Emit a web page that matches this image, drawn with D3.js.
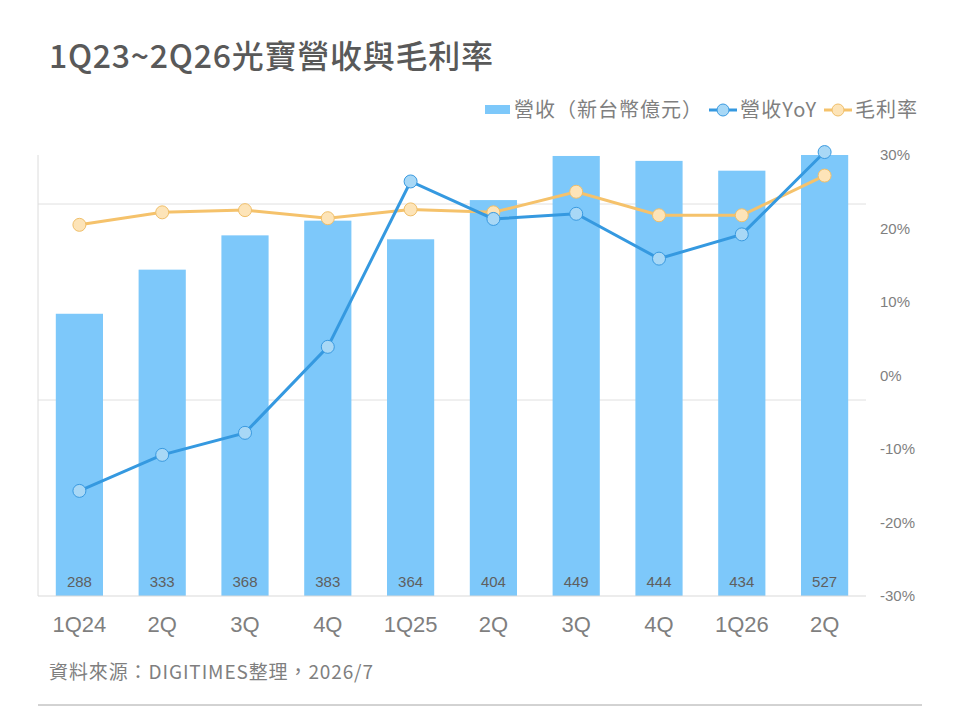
<!DOCTYPE html>
<html>
<head>
<meta charset="utf-8">
<script src="https://cdn.jsdelivr.net/npm/d3@7"></script>
<style>
  body { margin: 0; background: #fff; }
  text { font-family: "Liberation Sans", Arial, sans-serif; }
  .cjk { font-family: "Noto Sans CJK TC", "Noto Sans", sans-serif; }
</style>
</head>
<body>
<div id="chart-container"></div>
<script>
// Chart data
const quarters = ["1Q24", "2Q", "3Q", "4Q", "1Q25", "2Q", "3Q", "4Q", "1Q26", "2Q"];
const revenue = [288, 333, 368, 383, 364, 404, 449, 444, 434, 527];      // 新台幣億元
const revenueYoY = [-15.7, -10.8, -7.8, 3.9, 26.4, 21.3, 22.0, 15.9, 19.2, 30.4];  // %
const grossMargin = [20.5, 22.2, 22.5, 21.4, 22.6, 22.2, 25.0, 21.8, 21.8, 27.2];  // %
const pctTicks = [-30, -20, -10, 0, 10, 20, 30];
const revGridTicks = [200, 400];

const W = 960, H = 720;
const plot = { left: 38, right: 866, top: 155, bottom: 596 };

const svg = d3.select("#chart-container")
    .append("svg")
    .attr("width", W)
    .attr("height", H);

// Scales
const x = d3.scaleBand()
    .domain(d3.range(quarters.length))
    .range([plot.left, plot.right])
    .paddingInner(0.43)
    .paddingOuter(0.215);

const yRev = d3.scaleLinear()
    .domain([0, 450])
    .range([plot.bottom, plot.top]);

const yPct = d3.scaleLinear()
    .domain([-30, 30])
    .range([plot.bottom, plot.top]);

const cx = i => x(i) + x.bandwidth() / 2;

// Title
svg.append("text")
    .attr("class", "cjk")
    .attr("x", 49)
    .attr("y", 68)
    .attr("font-size", 32)
    .attr("font-weight", 500)
    .attr("fill", "#595959")
    .attr("textLength", 444)
    .attr("lengthAdjust", "spacing")
    .text("1Q23~2Q26光寶營收與毛利率");

// Gridlines and frame
svg.append("g")
    .selectAll("line")
    .data(revGridTicks)
    .enter().append("line")
    .attr("x1", plot.left)
    .attr("x2", plot.right)
    .attr("y1", d => yRev(d))
    .attr("y2", d => yRev(d))
    .attr("stroke", "#e0e0e0")
    .attr("stroke-width", 1);

svg.append("line")
    .attr("x1", plot.left).attr("x2", plot.left)
    .attr("y1", plot.top).attr("y2", plot.bottom)
    .attr("stroke", "#dcdcdc");

// Clip so the tallest bar stops at the plot top
svg.append("clipPath")
    .attr("id", "plot-clip")
    .append("rect")
    .attr("x", plot.left)
    .attr("y", plot.top)
    .attr("width", plot.right - plot.left)
    .attr("height", plot.bottom - plot.top);

// Bars
svg.append("g")
    .attr("clip-path", "url(#plot-clip)")
    .selectAll("rect")
    .data(revenue)
    .enter().append("rect")
    .attr("x", (d, i) => x(i))
    .attr("y", d => yRev(d))
    .attr("width", x.bandwidth())
    .attr("height", d => yRev(0) - yRev(d))
    .attr("fill", "#7dc8fa");

// Bar value labels
svg.append("g")
    .selectAll("text")
    .data(revenue)
    .enter().append("text")
    .attr("x", (d, i) => cx(i))
    .attr("y", plot.bottom - 9)
    .attr("text-anchor", "middle")
    .attr("font-size", 15)
    .attr("fill", "#5f5f5f")
    .text(d => d);

// Bottom axis line
svg.append("line")
    .attr("x1", plot.left).attr("x2", plot.right)
    .attr("y1", plot.bottom).attr("y2", plot.bottom)
    .attr("stroke", "#d9d9d9");

// X axis labels
const xAxis = svg.append("g")
    .attr("transform", "translate(0," + plot.bottom + ")")
    .call(d3.axisBottom(x).tickSize(0).tickPadding(20).tickFormat(i => quarters[i]));
xAxis.select(".domain").remove();
xAxis.selectAll("text")
    .attr("font-family", "Liberation Sans, Arial, sans-serif")
    .attr("font-size", 22)
    .attr("fill", "#7f7f7f");

// Right percent axis
const yAxis = svg.append("g")
    .attr("transform", "translate(" + (plot.right + 14) + ",0)")
    .call(d3.axisRight(yPct).tickValues(pctTicks).tickSize(0).tickPadding(0).tickFormat(d => d + "%"));
yAxis.select(".domain").remove();
yAxis.selectAll("text")
    .attr("font-family", "Liberation Sans, Arial, sans-serif")
    .attr("font-size", 15)
    .attr("fill", "#7f7f7f");

// Lines
const drawLine = (values, lineColor, dotFill, dotStroke) => {
    const line = d3.line()
        .x((d, i) => cx(i))
        .y(d => yPct(d));

    svg.append("path")
        .datum(values)
        .attr("d", line)
        .attr("fill", "none")
        .attr("stroke", lineColor)
        .attr("stroke-width", 3);

    svg.append("g")
        .selectAll("circle")
        .data(values)
        .enter().append("circle")
        .attr("cx", (d, i) => cx(i))
        .attr("cy", d => yPct(d))
        .attr("r", 6.5)
        .attr("fill", dotFill)
        .attr("stroke", dotStroke)
        .attr("stroke-width", 1);
};

drawLine(grossMargin, "#f5c26b", "#fde4b8", "#f0bf6a");
drawLine(revenueYoY, "#3599e0", "#a8d8f6", "#3a9ae0");

// Legend
const legend = svg.append("g").attr("class", "cjk");
legend.append("rect")
    .attr("x", 485).attr("y", 105)
    .attr("width", 25).attr("height", 9)
    .attr("fill", "#7dc8fa");
legend.append("text")
    .attr("class", "cjk")
    .attr("x", 514).attr("y", 117)
    .attr("font-size", 20)
    .attr("fill", "#7f7f7f")
    .attr("textLength", 188)
    .attr("lengthAdjust", "spacing")
    .text("營收（新台幣億元）");

const legendLine = (x0, color, fill, stroke, label, len) => {
    legend.append("line")
        .attr("x1", x0).attr("x2", x0 + 28)
        .attr("y1", 110).attr("y2", 110)
        .attr("stroke", color)
        .attr("stroke-width", 3);
    legend.append("circle")
        .attr("cx", x0 + 14).attr("cy", 110)
        .attr("r", 6)
        .attr("fill", fill)
        .attr("stroke", stroke);
    legend.append("text")
        .attr("class", "cjk")
        .attr("x", x0 + 31).attr("y", 117)
        .attr("font-size", 20)
        .attr("fill", "#7f7f7f")
        .attr("textLength", len)
        .attr("lengthAdjust", "spacing")
        .text(label);
};
legendLine(709, "#3599e0", "#a8d8f6", "#3a9ae0", "營收YoY", 76);
legendLine(824, "#f5c26b", "#fde4b8", "#f0bf6a", "毛利率", 62);

// Source note
svg.append("text")
    .attr("class", "cjk")
    .attr("x", 49)
    .attr("y", 679)
    .attr("font-size", 19)
    .attr("fill", "#7f7f7f")
    .attr("textLength", 324)
    .attr("lengthAdjust", "spacing")
    .text("資料來源：DIGITIMES整理，2026/7");

// Bottom rule
svg.append("line")
    .attr("x1", 38).attr("x2", 922)
    .attr("y1", 705).attr("y2", 705)
    .attr("stroke", "#a6a6a6");
</script>
</body>
</html>
